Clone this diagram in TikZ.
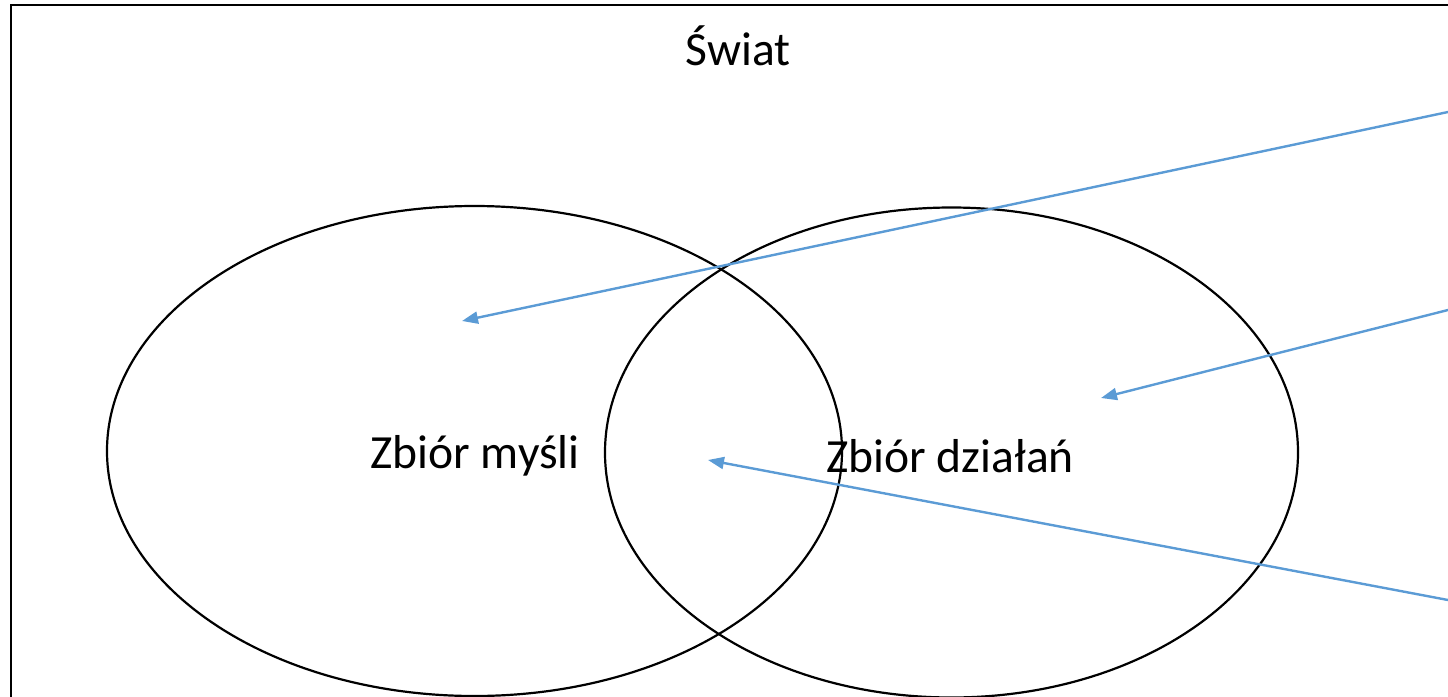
\documentclass[tikz,border=0pt]{standalone}
\usepackage{fontspec}
\setmainfont{Carlito}
\usetikzlibrary{arrows.meta}

\begin{document}
\begin{tikzpicture}[x=0.5pt, y=-0.5pt,
  set/.style = {draw, line width=1.1pt},
  label/.style = {font=\fontsize{23.8}{28}\selectfont, inner sep=0pt},
  pointer/.style = {color={rgb,255:red,91;green,155;blue,213},
    line width=1.2pt, -{Triangle[length=8pt,width=6pt]}}]
  \useasboundingbox (0,0) rectangle (1448,697);
  \clip (0,0) rectangle (1448,697);
  % frame of the world
  \draw[line width=1.3pt] (11,5) rectangle (1470,720);
  \node[label] (swiat) at (738,46) {Świat};
  % the two sets
  \draw[set] (474.5,451) ellipse [x radius=367.5, y radius=245];
  \draw[set] (951.5,452.5) ellipse [x radius=346.5, y radius=245];
  \node[label] (mysli) at (475,456) {Zbiór myśli};
  \node[label] (dzialania) at (950,456) {Zbiór działań};
  % pointers from the right
  \coordinate (s1) at (1448,112);
  \coordinate (s2) at (1448,310);
  \coordinate (s3) at (1448,600);
  \coordinate (t1) at (462,321);
  \coordinate (t2) at (1101,398);
  \coordinate (t3) at (708,460);
  \draw[pointer] (s1) -- (t1);
  \draw[pointer] (s2) -- (t2);
  \draw[pointer] (s3) -- (t3);
\end{tikzpicture}
\end{document}
